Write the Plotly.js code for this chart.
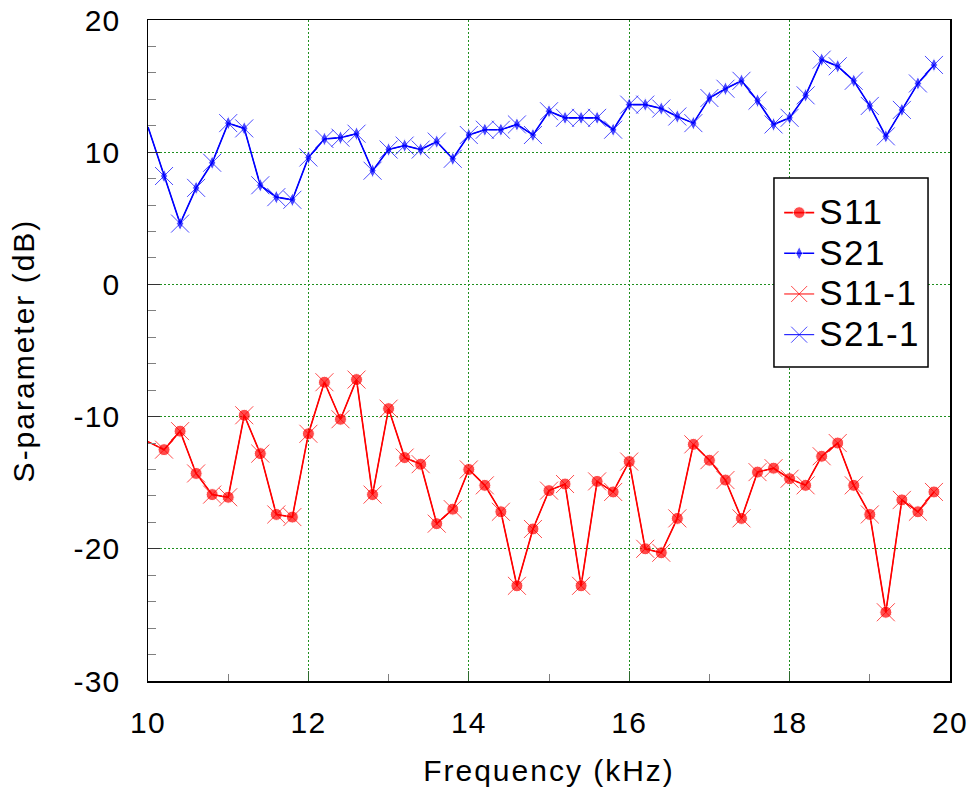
<!DOCTYPE html>
<html>
<head>
<meta charset="utf-8">
<script src="https://cdn.plot.ly/plotly-3.0.1.min.js"></script>
<style>
  html, body { margin: 0; padding: 0; background: #fff; }
  #chart { width: 974px; height: 794px; }
  .legendtext { letter-spacing: 1.5px; }
  .xtitle, .ytitle { letter-spacing: 2px; }
  .xtick text, .ytick text { letter-spacing: 1.2px; }
</style>
</head>
<body>
<div id="chart"></div>
<script>
// Frequency (kHz)
const freq = [10.0, 10.2, 10.4, 10.6, 10.8, 11.0, 11.2, 11.4, 11.6, 11.8,
              12.0, 12.2, 12.4, 12.6, 12.8, 13.0, 13.2, 13.4, 13.6, 13.8,
              14.0, 14.2, 14.4, 14.6, 14.8, 15.0, 15.2, 15.4, 15.6, 15.8,
              16.0, 16.2, 16.4, 16.6, 16.8, 17.0, 17.2, 17.4, 17.6, 17.8,
              18.0, 18.2, 18.4, 18.6, 18.8, 19.0, 19.2, 19.4, 19.6, 19.8];

// S11 (dB)
const s11 = [-11.9, -12.5, -11.1, -14.3, -15.9, -16.1, -9.9, -12.8, -17.4, -17.6,
             -11.3, -7.4, -10.2, -7.2, -15.9, -9.4, -13.1, -13.6, -18.1, -17.0,
             -14.0, -15.2, -17.2, -22.8, -18.5, -15.6, -15.1, -22.8, -14.9, -15.7,
             -13.4, -20.0, -20.3, -17.7, -12.1, -13.3, -14.8, -17.7, -14.2, -13.9,
             -14.7, -15.2, -13.0, -12.0, -15.2, -17.4, -24.8, -16.3, -17.2, -15.7];

// S21 (dB)
const s21 = [11.9, 8.2, 4.6, 7.3, 9.2, 12.2, 11.8, 7.5, 6.6, 6.4,
             9.6, 11.0, 11.1, 11.4, 8.6, 10.2, 10.5, 10.2, 10.8, 9.5,
             11.3, 11.7, 11.7, 12.1, 11.3, 13.1, 12.6, 12.6, 12.6, 11.7,
             13.6, 13.6, 13.3, 12.7, 12.2, 14.1, 14.8, 15.4, 13.9, 12.1,
             12.6, 14.3, 17.0, 16.5, 15.4, 13.5, 11.2, 13.2, 15.2, 16.6];

const seriesNames = ['S11', 'S21', 'S11-1', 'S21-1'];
const xTickVals = [10, 12, 14, 16, 18, 20];
const yTickVals = [-30, -20, -10, 0, 10, 20];

const RED = '#ff0000', BLUE = '#0000ff';
const FONT = '"Liberation Sans", Arial, Helvetica, sans-serif';
// marker hidden at the first point (it sits on the axis edge in the reference)
const sz = s => freq.map((f, i) => (i === 0 ? 0 : s));
const legName = n => '<span style="font-size:35px">' + n + '</span>';

const traces = [
  { x: freq, y: s11, name: legName(seriesNames[0]), mode: 'lines+markers',
    line: { color: RED, width: 1.6 },
    marker: { symbol: 'circle', size: sz(12), color: RED } },
  { x: freq, y: s21, name: legName(seriesNames[1]), mode: 'lines+markers',
    line: { color: BLUE, width: 1.6 },
    marker: { symbol: 'diamond-tall', size: sz(10), color: BLUE } },
  { x: freq, y: s11, name: legName(seriesNames[2]), mode: 'lines+markers',
    line: { color: RED, width: 1 },
    marker: { symbol: 'x-thin', size: sz(18), color: RED, line: { color: RED, width: 1 } } },
  { x: freq, y: s21, name: legName(seriesNames[3]), mode: 'lines+markers',
    line: { color: BLUE, width: 1 },
    marker: { symbol: 'x-thin', size: sz(18), color: BLUE, line: { color: BLUE, width: 1 } } }
];

const GRID = '#1f8f1f';
const layout = {
  width: 974, height: 794,
  margin: { l: 148, r: 24, t: 20, b: 113 },
  paper_bgcolor: '#ffffff', plot_bgcolor: '#ffffff',
  font: { family: FONT, size: 30, color: '#000' },
  showlegend: true,
  xaxis: {
    range: [10, 20], tickvals: xTickVals, ticktext: xTickVals.map(String),
    showline: true, linecolor: '#000', linewidth: 1.5, mirror: true,
    ticks: 'inside', ticklen: 10, tickcolor: '#2d6b2d', tickwidth: 1,
    showgrid: true, gridcolor: GRID, gridwidth: 1, griddash: '2px,2px',
    zeroline: false,
    minor: { dtick: 1, ticks: 'inside', ticklen: 7, tickcolor: '#808080', tickwidth: 1, showgrid: false },
    tickfont: { family: FONT, size: 30, color: '#000' },
    ticklabelstandoff: 14,
    title: { text: 'Frequency (kHz)', font: { family: FONT, size: 30, color: '#000' }, standoff: 22 }
  },
  yaxis: {
    range: [-30, 20], tickvals: yTickVals, ticktext: yTickVals.map(String),
    showline: true, linecolor: '#000', linewidth: 1.5, mirror: true,
    ticks: 'inside', ticklen: 12, tickcolor: '#333', tickwidth: 1,
    showgrid: true, gridcolor: GRID, gridwidth: 1, griddash: '2px,2px',
    zeroline: false,
    minor: { dtick: 2, ticks: 'inside', ticklen: 8, tickcolor: '#808080', tickwidth: 1, showgrid: false },
    tickfont: { family: FONT, size: 30, color: '#000' },
    ticklabelstandoff: 20,
    title: { text: 'S-parameter (dB)', font: { family: FONT, size: 30, color: '#000' }, standoff: 30 }
  },
  legend: {
    x: 0.787, y: 0.747, xanchor: 'left', yanchor: 'top',
    bgcolor: 'rgba(0,0,0,0)', borderwidth: 0,
    font: { family: FONT, size: 29, color: '#000' },
    itemsizing: 'trace'
  },
  shapes: [{
    type: 'rect', xref: 'paper', yref: 'paper', layer: 'above',
    x0: 0.7805, x1: 0.9726, y0: 0.475, y1: 0.761,
    fillcolor: '#ffffff', line: { color: '#000', width: 1.5 }
  }]
};

Plotly.newPlot('chart', traces, layout, { displayModeBar: false, staticPlot: true });
</script>
</body>
</html>
